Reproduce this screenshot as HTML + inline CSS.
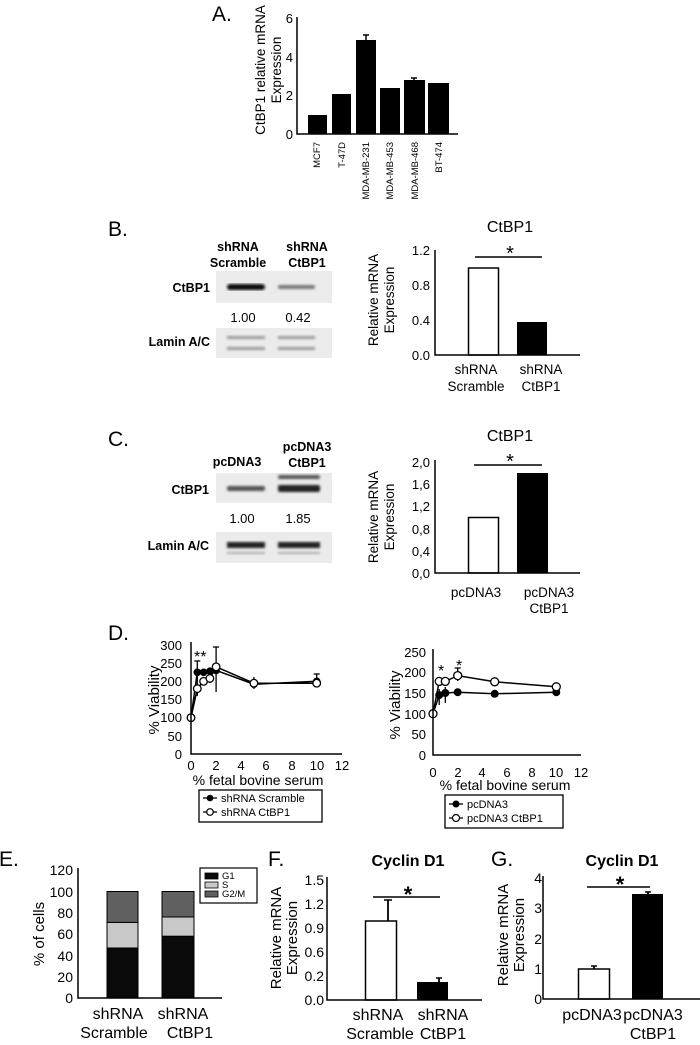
<!DOCTYPE html>
<html><head><meta charset="utf-8"><style>
html,body{margin:0;padding:0;background:#fff;}
svg{display:block;font-family:"Liberation Sans",Arial,sans-serif;}
</style></head><body>
<svg width="700" height="1045" viewBox="0 0 700 1045" xmlns="http://www.w3.org/2000/svg">
<rect width="700" height="1045" fill="#fff"/>
<defs>
<filter id="blur1"><feGaussianBlur stdDeviation="1.2"/></filter>
</defs>

<!-- Panel A -->
<text x="212" y="21" font-size="21">A.</text>
<g font-size="13" text-anchor="end">
<text x="293" y="139">0</text><text x="293" y="100">2</text><text x="293" y="62">4</text><text x="293" y="23">6</text>
</g>
<text transform="translate(265,70) rotate(-90)" font-size="13.5" text-anchor="middle">CtBP1 relative mRNA</text>
<text transform="translate(281,70) rotate(-90)" font-size="13.5" text-anchor="middle">Expression</text>
<g fill="#000">
<rect x="308" y="115" width="19" height="19"/>
<rect x="332" y="94" width="19" height="40"/>
<rect x="356" y="40" width="20" height="94"/>
<rect x="380" y="88" width="20" height="46"/>
<rect x="404" y="80" width="21" height="54"/>
<rect x="428" y="83" width="21" height="51"/>
</g>
<g stroke="#000" stroke-width="1.5">
<line x1="366" y1="40" x2="366" y2="35"/><line x1="363" y1="35" x2="369" y2="35"/>
<line x1="414" y1="80" x2="414" y2="78"/><line x1="411" y1="78" x2="417" y2="78"/>
</g>
<path d="M297 17 V134 H458" fill="none" stroke="#000" stroke-width="1.5"/>
<g font-size="9.5" text-anchor="end">
<text transform="translate(320,142) rotate(-90)">MCF7</text>
<text transform="translate(345,142) rotate(-90)">T-47D</text>
<text transform="translate(369,142) rotate(-90)">MDA-MB-231</text>
<text transform="translate(393,142) rotate(-90)">MDA-MB-453</text>
<text transform="translate(418,142) rotate(-90)">MDA-MB-468</text>
<text transform="translate(442,142) rotate(-90)">BT-474</text>
</g>

<!-- Panel B -->
<text x="108" y="236" font-size="21">B.</text>
<g font-size="12.5" font-weight="bold" text-anchor="middle">
<text x="238" y="251">shRNA</text><text x="238" y="267">Scramble</text>
<text x="307" y="251">shRNA</text><text x="307" y="267">CtBP1</text>
</g>
<g font-size="12.5" font-weight="bold" text-anchor="end">
<text x="210" y="292">CtBP1</text>
<text x="210" y="346">Lamin A/C</text>
</g>
<rect x="216" y="271" width="116" height="32" fill="#ebebeb"/>
<g filter="url(#blur1)">
<rect x="227" y="284" width="38" height="6" rx="3" fill="#0a0a0a"/>
<rect x="278" y="285" width="37" height="4" rx="2" fill="#777"/>
</g>
<g font-size="13" text-anchor="middle"><text x="243" y="322">1.00</text><text x="298" y="322">0.42</text></g>
<rect x="216" y="328" width="116" height="30" fill="#ebebeb"/>
<g filter="url(#blur1)" fill="#999">
<rect x="227" y="336" width="38" height="3"/><rect x="278" y="336" width="37" height="3"/>
<rect x="227" y="347" width="38" height="3"/><rect x="278" y="347" width="37" height="3"/>
</g>
<text x="510" y="232" font-size="16" text-anchor="middle">CtBP1</text>
<text x="510" y="260" font-size="20" text-anchor="middle">*</text>
<line x1="475" y1="257" x2="542" y2="257" stroke="#000" stroke-width="1.5"/>
<g font-size="13" text-anchor="end">
<text x="430" y="255">1.2</text><text x="430" y="290">0.8</text><text x="430" y="325">0.4</text><text x="430" y="360">0.0</text>
</g>
<text transform="translate(378,300) rotate(-90)" font-size="13.5" text-anchor="middle">Relative mRNA</text>
<text transform="translate(394,300) rotate(-90)" font-size="13.5" text-anchor="middle">Expression</text>
<rect x="468.5" y="268" width="30" height="87" fill="#fff" stroke="#000" stroke-width="1.5"/>
<rect x="517" y="322" width="30" height="33" fill="#000"/>
<path d="M435 250 V355 H580" fill="none" stroke="#000" stroke-width="1.5"/>
<g font-size="13.5" text-anchor="middle">
<text x="476" y="374">shRNA</text><text x="476" y="391">Scramble</text>
<text x="541" y="374">shRNA</text><text x="541" y="391">CtBP1</text>
</g>

<!-- Panel C -->
<text x="108" y="446" font-size="21">C.</text>
<g font-size="12.5" font-weight="bold" text-anchor="middle">
<text x="237" y="466">pcDNA3</text>
<text x="307" y="451">pcDNA3</text><text x="307" y="467">CtBP1</text>
</g>
<g font-size="12.5" font-weight="bold" text-anchor="end">
<text x="209" y="494">CtBP1</text>
<text x="209" y="550">Lamin A/C</text>
</g>
<rect x="216" y="473" width="116" height="30" fill="#ebebeb"/>
<g filter="url(#blur1)">
<rect x="227" y="486" width="38" height="5" rx="2" fill="#555"/>
<rect x="278" y="475" width="42" height="4" rx="2" fill="#555"/>
<rect x="278" y="485" width="42" height="7" rx="2" fill="#222"/>
</g>
<g font-size="13" text-anchor="middle"><text x="242" y="523">1.00</text><text x="298" y="523">1.85</text></g>
<rect x="216" y="532" width="116" height="31" fill="#ebebeb"/>
<g filter="url(#blur1)">
<rect x="227" y="542" width="38" height="6" fill="#222"/><rect x="278" y="542" width="42" height="6" fill="#222"/>
<rect x="227" y="552" width="38" height="2" fill="#aaa"/><rect x="278" y="552" width="42" height="2" fill="#aaa"/>
</g>
<text x="510" y="441" font-size="16" text-anchor="middle">CtBP1</text>
<text x="510" y="468" font-size="20" text-anchor="middle">*</text>
<line x1="474" y1="465" x2="542" y2="465" stroke="#000" stroke-width="1.5"/>
<g font-size="13" text-anchor="end">
<text x="430" y="467">2,0</text><text x="430" y="489">1,6</text><text x="430" y="511">1,2</text>
<text x="430" y="534">0,8</text><text x="430" y="556">0,4</text><text x="430" y="578">0,0</text>
</g>
<text transform="translate(378,517) rotate(-90)" font-size="13.5" text-anchor="middle">Relative mRNA</text>
<text transform="translate(394,517) rotate(-90)" font-size="13.5" text-anchor="middle">Expression</text>
<rect x="468.5" y="517.5" width="30" height="55.5" fill="#fff" stroke="#000" stroke-width="1.5"/>
<rect x="517" y="473" width="31" height="100" fill="#000"/>
<path d="M435 460 V573 H580" fill="none" stroke="#000" stroke-width="1.5"/>
<g font-size="13.5" text-anchor="middle">
<text x="476" y="597">pcDNA3</text>
<text x="549" y="597">pcDNA3</text><text x="549" y="613">CtBP1</text>
</g>

<!-- Panel D left -->
<text x="108" y="640" font-size="21">D.</text>
<g font-size="13" text-anchor="end">
<text x="182" y="759">0</text><text x="182" y="741">50</text><text x="182" y="722">100</text><text x="182" y="704">150</text>
<text x="182" y="686">200</text><text x="182" y="668">250</text><text x="182" y="650">300</text>
</g>
<g font-size="13" text-anchor="middle">
<text x="191" y="770">0</text><text x="216" y="770">2</text><text x="241" y="770">4</text><text x="266" y="770">6</text>
<text x="292" y="770">8</text><text x="317" y="770">10</text><text x="342" y="770">12</text>
</g>
<text x="258" y="785" font-size="14" text-anchor="middle">% fetal bovine serum</text>
<text transform="translate(159,700) rotate(-90)" font-size="15" text-anchor="middle">% Viability</text>
<text x="194" y="662" font-size="16">**</text>
<g stroke="#000" stroke-width="1.3">
<line x1="197.3" y1="696" x2="197.3" y2="661"/><line x1="194.3" y1="661" x2="200.3" y2="661"/>
<line x1="216.1" y1="692" x2="216.1" y2="647"/><line x1="213" y1="647" x2="219" y2="647"/>
<line x1="253.9" y1="689" x2="253.9" y2="677"/>
<line x1="316.7" y1="687" x2="316.7" y2="674"/><line x1="313.7" y1="674" x2="319.7" y2="674"/>
<line x1="209.9" y1="683" x2="209.9" y2="668"/>
</g>
<polyline points="191,717.7 197.3,672.3 203.6,672.3 209.9,671.2 216.1,670.4 253.9,684.2 316.7,681.3" fill="none" stroke="#000" stroke-width="1.5"/>
<polyline points="191,717.7 197.3,688.6 203.6,681.3 209.9,678.4 216.1,666.8 253.9,683.2 316.7,683.2" fill="none" stroke="#000" stroke-width="1.5"/>
<g fill="#000">
<circle cx="197.3" cy="672.3" r="3.8"/><circle cx="203.6" cy="672.3" r="3.8"/><circle cx="209.9" cy="671.2" r="3.8"/>
<circle cx="216.1" cy="670.4" r="3.8"/><circle cx="253.9" cy="684.2" r="3.8"/><circle cx="316.7" cy="681.3" r="3.8"/>
</g>
<g fill="#fff" stroke="#000" stroke-width="1.3">
<circle cx="191" cy="717.7" r="3.8"/><circle cx="197.3" cy="688.6" r="3.8"/><circle cx="203.6" cy="681.3" r="3.8"/>
<circle cx="209.9" cy="678.4" r="3.8"/><circle cx="216.1" cy="666.8" r="3.8"/><circle cx="253.9" cy="683.2" r="3.8"/>
<circle cx="316.7" cy="683.2" r="3.8"/>
</g>
<path d="M191 642 V754 H342" fill="none" stroke="#000" stroke-width="1.5"/>
<rect x="199" y="790" width="123" height="32" fill="#fff" stroke="#000" stroke-width="1.3"/>
<line x1="203" y1="798" x2="217" y2="798" stroke="#000" stroke-width="1.3"/><circle cx="210" cy="798" r="3.3" fill="#000"/>
<line x1="203" y1="812" x2="217" y2="812" stroke="#000" stroke-width="1.3"/><circle cx="210" cy="812" r="3.3" fill="#fff" stroke="#000" stroke-width="1.2"/>
<g font-size="11"><text x="221" y="802">shRNA Scramble</text><text x="221" y="816">shRNA CtBP1</text></g>

<!-- Panel D right -->
<g font-size="13" text-anchor="end">
<text x="426" y="760">0</text><text x="426" y="739">50</text><text x="426" y="719">100</text>
<text x="426" y="698">150</text><text x="426" y="677">200</text><text x="426" y="657">250</text>
</g>
<g font-size="13" text-anchor="middle">
<text x="433" y="777">0</text><text x="458" y="777">2</text><text x="482" y="777">4</text><text x="507" y="777">6</text>
<text x="532" y="777">8</text><text x="556" y="777">10</text><text x="581" y="777">12</text>
</g>
<text x="505" y="790" font-size="14" text-anchor="middle">% fetal bovine serum</text>
<text transform="translate(400,705) rotate(-90)" font-size="15" text-anchor="middle">% Viability</text>
<text x="438" y="676" font-size="16">*</text>
<text x="456" y="671" font-size="16">*</text>
<g stroke="#000" stroke-width="1.3">
<line x1="457.7" y1="681" x2="457.7" y2="668"/><line x1="454.7" y1="668" x2="460.7" y2="668"/>
<line x1="445.3" y1="703" x2="445.3" y2="687"/>
<line x1="439.2" y1="705" x2="439.2" y2="689"/>
</g>
<polyline points="433,713.7 439.2,695.1 445.3,693 457.7,692.2 494.7,693.8 556.3,692.2" fill="none" stroke="#000" stroke-width="1.5"/>
<polyline points="433,713.7 439.2,681.4 445.3,681.4 457.7,675.6 494.7,681.8 556.3,686.8" fill="none" stroke="#000" stroke-width="1.5"/>
<g fill="#000">
<circle cx="439.2" cy="695.1" r="4"/><circle cx="445.3" cy="693" r="4"/><circle cx="457.7" cy="692.2" r="4"/>
<circle cx="494.7" cy="693.8" r="4"/><circle cx="556.3" cy="692.2" r="4"/>
</g>
<g fill="#fff" stroke="#000" stroke-width="1.3">
<circle cx="433" cy="713.7" r="4"/><circle cx="439.2" cy="681.4" r="4"/><circle cx="445.3" cy="681.4" r="4"/>
<circle cx="457.7" cy="675.6" r="4"/><circle cx="494.7" cy="681.8" r="4"/><circle cx="556.3" cy="686.8" r="4"/>
</g>
<path d="M433 649 V755 H581" fill="none" stroke="#000" stroke-width="1.5"/>
<rect x="445" y="795" width="118" height="33" fill="#fff" stroke="#000" stroke-width="1.3"/>
<line x1="449" y1="804" x2="463" y2="804" stroke="#000" stroke-width="1.3"/><circle cx="456" cy="804" r="3.5" fill="#000"/>
<line x1="449" y1="818" x2="463" y2="818" stroke="#000" stroke-width="1.3"/><circle cx="456" cy="818" r="3.5" fill="#fff" stroke="#000" stroke-width="1.2"/>
<g font-size="11"><text x="467" y="808">pcDNA3</text><text x="467" y="822">pcDNA3 CtBP1</text></g>

<!-- Panel E -->
<text x="-1" y="866" font-size="21">E.</text>
<g font-size="14" text-anchor="end">
<text x="73" y="1003">0</text><text x="73" y="982">20</text><text x="73" y="961">40</text><text x="73" y="939">60</text>
<text x="73" y="918">80</text><text x="73" y="897">100</text><text x="73" y="875">120</text>
</g>
<text transform="translate(44,934) rotate(-90)" font-size="15" text-anchor="middle">% of cells</text>
<g stroke="#000" stroke-width="1">
<rect x="107" y="948" width="31" height="50" fill="#0a0a0a"/>
<rect x="107" y="922.4" width="31" height="25.6" fill="#c8c8c8"/>
<rect x="107" y="891.5" width="31" height="30.9" fill="#606060"/>
<rect x="162" y="936.2" width="32" height="61.8" fill="#0a0a0a"/>
<rect x="162" y="917" width="32" height="19.2" fill="#c8c8c8"/>
<rect x="162" y="891.5" width="32" height="25.5" fill="#606060"/>
</g>
<path d="M78 868 V998 H222" fill="none" stroke="#000" stroke-width="1.5"/>
<rect x="200" y="868" width="57" height="35" fill="#fff" stroke="#000" stroke-width="1.2"/>
<g stroke="#000" stroke-width="0.8">
<rect x="205" y="873" width="13" height="6" fill="#0a0a0a"/>
<rect x="205" y="882" width="13" height="6" fill="#c8c8c8"/>
<rect x="205" y="891" width="13" height="6" fill="#606060"/>
</g>
<g font-size="9.5"><text x="222" y="879">G1</text><text x="222" y="888">S</text><text x="222" y="897">G2/M</text></g>
<g font-size="16" text-anchor="middle">
<text x="118" y="1019">shRNA</text><text x="114" y="1038">Scramble</text>
<text x="183" y="1019">shRNA</text><text x="190" y="1038">CtBP1</text>
</g>

<!-- Panel F -->
<text x="268" y="866" font-size="21">F.</text>
<text x="408" y="866" font-size="16" font-weight="bold" text-anchor="middle">Cyclin D1</text>
<g font-size="14" text-anchor="end">
<text x="324" y="1005">0.0</text><text x="324" y="981">0.2</text><text x="324" y="957">0.6</text>
<text x="324" y="933">0.9</text><text x="324" y="909">1.2</text><text x="324" y="885">1.5</text>
</g>
<text transform="translate(281,938) rotate(-90)" font-size="15" text-anchor="middle">Relative mRNA</text>
<text transform="translate(297,938) rotate(-90)" font-size="15" text-anchor="middle">Expression</text>
<text x="408" y="902" font-size="22" text-anchor="middle" font-weight="bold">*</text>
<line x1="373" y1="897" x2="440" y2="897" stroke="#000" stroke-width="1.5"/>
<line x1="388" y1="921" x2="388" y2="900" stroke="#000" stroke-width="1.8"/><line x1="384" y1="900" x2="392" y2="900" stroke="#000" stroke-width="1.5"/>
<rect x="365.5" y="921" width="31" height="79" fill="#fff" stroke="#000" stroke-width="1.5"/>
<line x1="439" y1="982" x2="439" y2="978" stroke="#000" stroke-width="1.8"/><line x1="436" y1="978" x2="442" y2="978" stroke="#000" stroke-width="1.5"/>
<rect x="417" y="982" width="31" height="18" fill="#000"/>
<path d="M327 877 V1000 H482" fill="none" stroke="#000" stroke-width="1.5"/>
<g font-size="16" text-anchor="middle">
<text x="378" y="1020">shRNA</text><text x="380" y="1039">Scramble</text>
<text x="443" y="1020">shRNA</text><text x="443" y="1039">CtBP1</text>
</g>

<!-- Panel G -->
<text x="491" y="866" font-size="21">G.</text>
<text x="622" y="866" font-size="16" font-weight="bold" text-anchor="middle">Cyclin D1</text>
<g font-size="14" text-anchor="end">
<text x="542" y="1004">0</text><text x="542" y="974">1</text><text x="542" y="944">2</text>
<text x="542" y="913">3</text><text x="542" y="883">4</text>
</g>
<text transform="translate(508,935) rotate(-90)" font-size="15" text-anchor="middle">Relative mRNA</text>
<text transform="translate(524,935) rotate(-90)" font-size="15" text-anchor="middle">Expression</text>
<text x="620" y="892" font-size="22" text-anchor="middle" font-weight="bold">*</text>
<line x1="587" y1="887" x2="650" y2="887" stroke="#000" stroke-width="1.5"/>
<line x1="594" y1="969" x2="594" y2="966" stroke="#000" stroke-width="1.8"/><line x1="591" y1="966" x2="597" y2="966" stroke="#000" stroke-width="1.5"/>
<rect x="578.5" y="969" width="31" height="30" fill="#fff" stroke="#000" stroke-width="1.5"/>
<line x1="648" y1="894" x2="648" y2="892" stroke="#000" stroke-width="1.8"/><line x1="645" y1="892" x2="651" y2="892" stroke="#000" stroke-width="1.5"/>
<rect x="632" y="894" width="31" height="105" fill="#000"/>
<path d="M543 876 V999 H700" fill="none" stroke="#000" stroke-width="1.5"/>
<g font-size="16" text-anchor="middle">
<text x="592" y="1020">pcDNA3</text>
<text x="653" y="1020">pcDNA3</text><text x="653" y="1039">CtBP1</text>
</g>
</svg>
</body></html>
